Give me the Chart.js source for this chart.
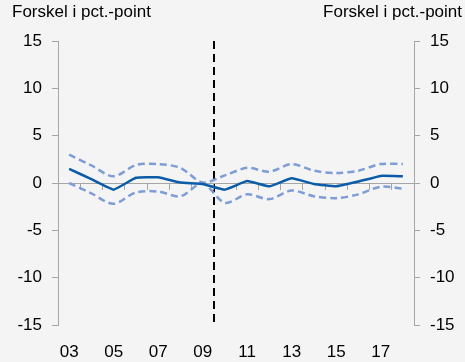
<!DOCTYPE html>
<html>
<head>
<meta charset="utf-8">
<script src="https://cdn.jsdelivr.net/npm/chart.js@4"></script>
<style>
    body { margin: 0; background: #f4f4f4; }
    #wrap { position: relative; width: 465px; height: 362px; }
    .akse-titel {
        position: absolute; top: 2px;
        font: 17px "Liberation Sans", Arial, sans-serif; color: #000;
    }
</style>
</head>
<body>
<div id="wrap">
    <canvas id="graf" width="465" height="362"></canvas>
    <div class="akse-titel" style="left:12px;">Forskel i pct.-point</div>
    <div class="akse-titel" style="right:3px;">Forskel i pct.-point</div>
</div>
<script>
// Data
const aar = ['03', '04', '05', '06', '07', '08', '09', '10', '11', '12', '13', '14', '15', '16', '17', '18'];
const forskel = [1.5, 0.4, -0.7, 0.55, 0.6, 0.05, -0.1, -0.7, 0.2, -0.35, 0.5, -0.1, -0.35, 0.15, 0.75, 0.7];
const ovreGraense = [3.0, 1.85, 0.7, 1.9, 2.0, 1.6, 0.05, 0.8, 1.6, 1.2, 2.0, 1.3, 1.05, 1.3, 2.0, 2.0];
const nedreGraense = [0.0, -1.1, -2.2, -1.0, -0.9, -1.4, -0.05, -2.1, -1.2, -1.7, -0.8, -1.4, -1.6, -1.2, -0.4, -0.6];
const yTicks = [-15, -10, -5, 0, 5, 10, 15];
const skilleIndex = aar.indexOf('10'); // stiplet lodret linje mellem 09 og 10

const graa = '#a6a6a6';
const skrift = { family: '"Liberation Sans", Arial, sans-serif', size: 17 };

// Fælles opsætning for y-akserne
function yAkse(position) {
    return {
        position: position,
        min: yTicks[0],
        max: yTicks[yTicks.length - 1],
        afterBuildTicks: function (akse) {
            akse.ticks = yTicks.map(function (v) { return { value: v }; });
        },
        afterFit: function (akse) { akse.width = 41; },
        ticks: { color: '#000', font: skrift, padding: 10 },
        grid: { drawOnChartArea: false, drawTicks: true, tickLength: 6, color: graa },
        border: { color: graa, width: 1 }
    };
}

new Chart(document.getElementById('graf').getContext('2d'), {
    type: 'line',
    data: {
        labels: aar,
        datasets: [{
            data: forskel,
            borderColor: '#0b5ca8',
            borderWidth: 2.5,
            pointRadius: 0,
            tension: 0.1
        }, {
            data: ovreGraense,
            borderColor: '#7e9dd6',
            borderWidth: 2.5,
            borderDash: [7, 4],
            pointRadius: 0,
            tension: 0.3
        }, {
            data: nedreGraense,
            borderColor: '#7e9dd6',
            borderWidth: 2.5,
            borderDash: [7, 4],
            pointRadius: 0,
            tension: 0.3
        }]
    },
    options: {
        responsive: false,
        animation: false,
        layout: { autoPadding: false, padding: { top: 41, left: 17, right: 10, bottom: 0 } },
        plugins: { legend: { display: false }, tooltip: { enabled: false } },
        scales: {
            x: {
                offset: true,
                afterFit: function (akse) { akse.height = 37; },
                ticks: {
                    color: '#000', font: skrift, padding: 17,
                    autoSkip: false, maxRotation: 0,
                    callback: function (v, i) { return i % 2 === 0 ? aar[i] : ''; }
                },
                grid: {
                    offset: true, drawTicks: false, lineWidth: 2,
                    color: function (ctx) { return ctx.index === skilleIndex ? '#000' : 'transparent'; }
                },
                border: { display: false, dash: [8, 5] }
            },
            // nul-linjen med små streger ved hvert år
            x2: {
                type: 'category',
                labels: aar,
                offset: true,
                position: { y: 0 },
                afterFit: function (akse) { akse.height = 0; },
                ticks: { display: false },
                grid: { offset: true, drawOnChartArea: false, drawTicks: true, tickLength: 6, color: graa },
                border: { color: graa, width: 1 }
            },
            y: yAkse('left'),
            y2: yAkse('right')
        }
    }
});
</script>
</body>
</html>
